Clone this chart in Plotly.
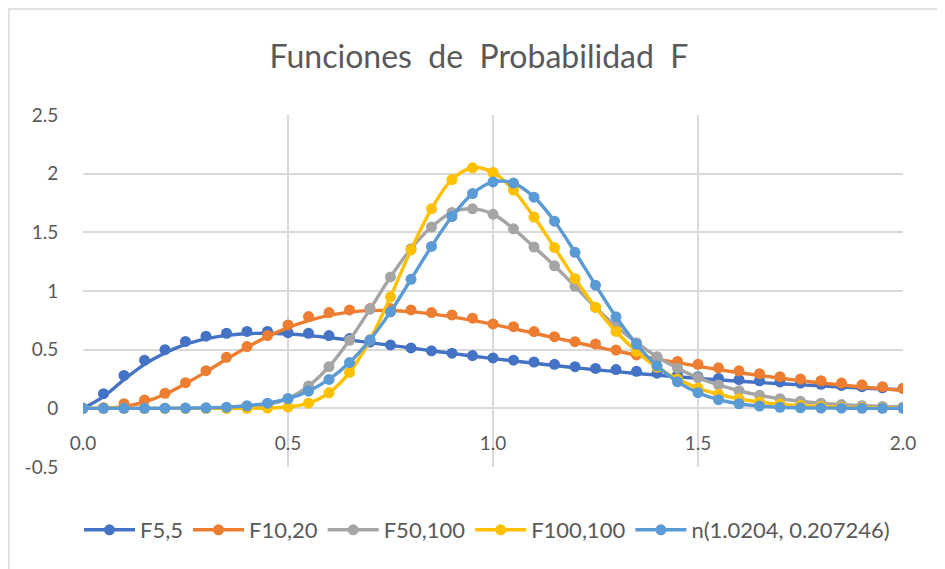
import plotly.graph_objects as go

# ---------------- data ----------------
x_vals = [round(i * 0.05, 2) for i in range(41)]

f55_line = [0, 0.10, 0.245, 0.375, 0.472, 0.545, 0.592, 0.622, 0.636, 0.64, 0.634, 0.621, 0.603, 0.582,
            0.56, 0.537, 0.514, 0.491, 0.468, 0.446, 0.424, 0.404, 0.384, 0.365, 0.346, 0.329, 0.313,
            0.297, 0.283, 0.269, 0.255, 0.243, 0.231, 0.22, 0.21, 0.2, 0.191, 0.182, 0.173, 0.165, 0.158]
f55_pts = [0.0, 0.125, 0.28, 0.41, 0.50, 0.57, 0.615, 0.64, 0.655, 0.655, 0.645, 0.64, 0.62, 0.595,
           0.565, 0.54, 0.515, 0.49, 0.47, 0.45, 0.43, 0.41, 0.395, 0.375, 0.355, 0.34, 0.33, 0.315,
           0.30, 0.285, 0.27, 0.255, 0.245, 0.235, 0.225, 0.215, 0.205, 0.195, 0.185, 0.175, 0.17]

f1020_line = [0, 0.001, 0.015, 0.054, 0.12, 0.209, 0.311, 0.418, 0.52, 0.611, 0.688, 0.748, 0.792,
              0.82, 0.833, 0.834, 0.824, 0.805, 0.779, 0.749, 0.715, 0.678, 0.64, 0.601, 0.563, 0.525,
              0.489, 0.454, 0.42, 0.389, 0.359, 0.33, 0.304, 0.28, 0.257, 0.236, 0.216, 0.199, 0.182,
              0.167, 0.153]
f1020_pts = [0.0, 0.005, 0.04, 0.07, 0.128, 0.219, 0.321, 0.435, 0.526, 0.62, 0.711, 0.782, 0.816,
             0.839, 0.85, 0.85, 0.839, 0.816, 0.796, 0.768, 0.719, 0.696, 0.654, 0.611, 0.568, 0.549,
             0.497, 0.455, 0.43, 0.40, 0.375, 0.345, 0.32, 0.295, 0.27, 0.25, 0.235, 0.215, 0.2,
             0.185, 0.17]

f50100 = [0, 0, 0, 0, 0, 0, 0, 0.002, 0.009, 0.031, 0.084, 0.19, 0.355, 0.58, 0.845, 1.12, 1.36,
          1.545, 1.67, 1.70, 1.655, 1.53, 1.375, 1.215, 1.04, 0.86, 0.70, 0.56, 0.44, 0.342, 0.262,
          0.199, 0.15, 0.111, 0.082, 0.06, 0.044, 0.032, 0.023, 0.016, 0.012]

f100100 = [0, 0, 0, 0, 0, 0, 0, 0, 0, 0.002, 0.011, 0.044, 0.132, 0.306, 0.584, 0.95, 1.35, 1.70,
           1.95, 2.05, 2.01, 1.86, 1.63, 1.37, 1.105, 0.862, 0.655, 0.485, 0.35, 0.249, 0.173, 0.12,
           0.081, 0.054, 0.036, 0.024, 0.016, 0.01, 0.007, 0.004, 0.003]

normal = [0, 0, 0, 0, 0.001, 0.002, 0.005, 0.01, 0.022, 0.044, 0.082, 0.146, 0.246, 0.39, 0.583,
          0.822, 1.10, 1.38, 1.635, 1.83, 1.93, 1.92, 1.80, 1.595, 1.33, 1.05, 0.78, 0.546, 0.362,
          0.226, 0.133, 0.074, 0.039, 0.019, 0.009, 0.004, 0.002, 0.001, 0, 0, 0]

names = ["F5,5", "F10,20", "F50,100", "F100,100", "n(1.0204, 0.207246)"]
colors = ["#4472C4", "#ED7D31", "#A5A5A5", "#FFC000", "#5B9BD5"]

x_ticks = [0, 0.5, 1.0, 1.5, 2.0]
x_ticktext = ["0.0", "0.5", "1.0", "1.5", "2.0"]
y_ticks = [-0.5, 0, 0.5, 1, 1.5, 2, 2.5]
y_ticktext = ["-0.5", "0", "0.5", "1", "1.5", "2", "2.5"]

title_text = "Funciones\u00a0 de\u00a0 Probabilidad\u00a0 F"

# ---------------- figure ----------------
LW = 3.4
MS = 11
fig = go.Figure()

def add_split(line_y, pts_y, name, color):
    fig.add_trace(go.Scatter(x=x_vals, y=line_y, mode="lines", line=dict(color=color, width=LW, shape="spline"),
                             showlegend=False, legendgroup=name, hoverinfo="skip"))
    fig.add_trace(go.Scatter(x=x_vals, y=pts_y, mode="markers", marker=dict(color=color, size=MS),
                             showlegend=False, legendgroup=name, name=name))
    fig.add_trace(go.Scatter(x=[None], y=[None], mode="lines+markers", name=name, legendgroup=name,
                             line=dict(color=color, width=LW), marker=dict(color=color, size=MS)))

def add_joint(y, name, color):
    fig.add_trace(go.Scatter(x=x_vals, y=y, mode="lines+markers", name=name,
                             line=dict(color=color, width=LW, shape="spline"),
                             marker=dict(color=color, size=MS)))

add_split(f55_line, f55_pts, names[0], colors[0])
add_split(f1020_line, f1020_pts, names[1], colors[1])
add_joint(f50100, names[2], colors[2])
add_joint(f100100, names[3], colors[3])
add_joint(normal, names[4], colors[4])

grid = "#D9D9D9"
txt = "#595959"
FONT = "Lato"
OFF = 8  # page body margin

fig.update_layout(
    width=945, height=569,
    margin=dict(l=83 - OFF, r=42 + OFF, t=115 - OFF, b=102 + OFF, autoexpand=False),
    paper_bgcolor="white", plot_bgcolor="white",
    font=dict(family=FONT, color=txt, size=19),
    title=dict(text=title_text, x=(479 - OFF) / 945, xref="container", xanchor="center",
               y=1 - (57 - OFF) / 569, yref="container", yanchor="middle",
               font=dict(family=FONT, size=32, color=txt)),
    xaxis=dict(range=[0, 2], tickvals=x_ticks, ticktext=x_ticktext, showgrid=True, gridcolor=grid,
               gridwidth=1.5, zeroline=False, showline=False, anchor="free", position=1 / 6,
               ticks="outside", ticklen=18, tickcolor="rgba(0,0,0,0)", tickfont=dict(size=19, color=txt),
               automargin=False, domain=[0, 1]),
    yaxis=dict(range=[-0.5, 2.5], tickvals=y_ticks, ticktext=y_ticktext, showgrid=True, gridcolor=grid,
               gridwidth=1.5, zeroline=False, showline=False, ticks="outside", ticklen=20,
               tickcolor="rgba(0,0,0,0)", tickfont=dict(size=19, color=txt), automargin=False,
               domain=[0, 1]),
    legend=dict(orientation="h", x=(487 - 83) / 820, xanchor="center", y=(467 - 530) / 352,
                yanchor="middle", font=dict(size=22, color=txt, family=FONT), bgcolor="rgba(0,0,0,0)",
                itemwidth=51),
    showlegend=True,
)

# chart outer border (right/bottom parts fall outside the visible page)
fig.add_shape(type="rect", xref="paper", yref="paper",
              x0=(9 - 83) / 820, x1=(990 - 83) / 820, y0=(467 - 620) / 352, y1=1 + (115 - 9) / 352,
              line=dict(color="#D9D9D9", width=1.5), fillcolor="rgba(0,0,0,0)", layer="below")

fig.write_html("out.html")
